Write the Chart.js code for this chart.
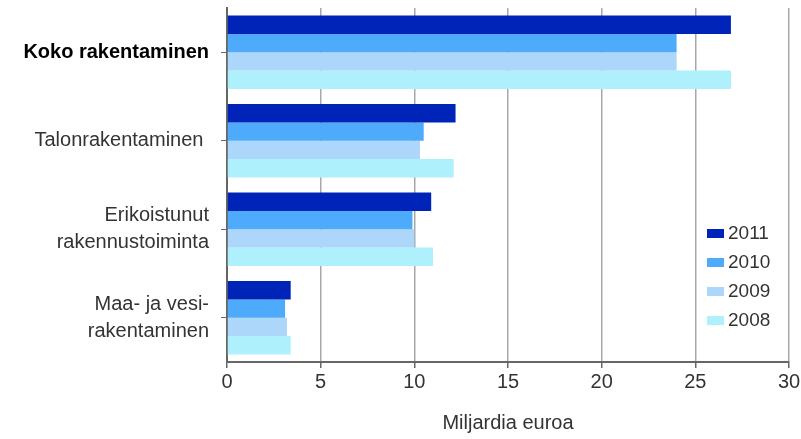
<!DOCTYPE html>
<html lang="fi">
<head>
  <meta charset="UTF-8">
  <script src="https://cdn.jsdelivr.net/npm/chart.js"></script>
  <title>Rakentaminen</title>
  <style>
    html, body { margin: 0; padding: 0; background: #fff; }
  </style>
</head>
<body>
  <canvas id="chart" width="801" height="439"></canvas>

  <script>
    const categories = [
      "Koko rakentaminen",
      "Talonrakentaminen ",
      ["Erikoistunut", "rakennustoiminta"],
      ["Maa- ja vesi-", "rakentaminen"]
    ];
    const years = ["2011", "2010", "2009", "2008"];
    const values2011 = [26.9, 12.2, 10.9, 3.4];
    const values2010 = [24.0, 10.5, 9.9, 3.1];
    const values2009 = [24.0, 10.3, 10.0, 3.2];
    const values2008 = [26.9, 12.1, 11.0, 3.4];
    const colors = ["#0024b8", "#4eaafa", "#acd6fa", "#aef0fc"];
    const xTicks = [0, 5, 10, 15, 20, 25, 30];

    const FONT = "'Liberation Sans', Arial, sans-serif";
    const series = [values2011, values2010, values2009, values2008];

    // legend drawn inside the plot, lower right
    const boxLegend = {
      id: "boxLegend",
      afterDraw(chart) {
        const ctx = chart.ctx;
        const x = 707, y0 = 233, step = 29;
        ctx.save();
        ctx.font = "19px " + FONT;
        ctx.textBaseline = "middle";
        chart.data.datasets.forEach((ds, i) => {
          const y = y0 + i * step;
          ctx.fillStyle = ds.backgroundColor;
          ctx.fillRect(x, y - 4, 17, 9);
          ctx.fillStyle = "#333";
          ctx.fillText(ds.label, x + 21, y + 1);
        });
        ctx.restore();
      }
    };

    new Chart(document.getElementById("chart"), {
      type: "bar",
      data: {
        labels: categories,
        datasets: years.map((y, i) => ({
          label: y,
          data: series[i],
          backgroundColor: colors[i],
          borderWidth: 0,
          categoryPercentage: 0.83,
          barPercentage: 1.0
        }))
      },
      options: {
        indexAxis: "y",
        responsive: false,
        animation: false,
        layout: { padding: { top: 8, right: 12, bottom: 0, left: 0 } },
        plugins: { legend: { display: false }, tooltip: { enabled: false } },
        scales: {
          x: {
            min: 0,
            max: 30,
            afterBuildTicks: s => { s.ticks = xTicks.map(v => ({ value: v })); },
            afterFit: s => { s.height = 77; s.paddingRight = 0; },
            grid: { color: "#a8a8a8", lineWidth: 1.5, tickLength: 6, tickColor: "#666" },
            border: { color: "#666", width: 2 },
            ticks: { color: "#333", font: { family: FONT, size: 20 }, padding: 2, maxRotation: 0 },
            title: { display: true, text: "Miljardia euroa", color: "#333", font: { family: FONT, size: 20 }, padding: { top: 6 } }
          },
          y: {
            afterFit: s => { s.width = 227; s.paddingTop = 0; s.paddingBottom = 0; },
            grid: { drawOnChartArea: false, offset: false, tickLength: 6, tickColor: "#666" },
            border: { color: "#666", width: 2 },
            ticks: {
              padding: 12,
              color: c => c.index === 0 ? "#000" : "#333",
              font: c => ({ family: FONT, size: 20, weight: c.index === 0 ? "bold" : "normal", lineHeight: 1.35 })
            }
          }
        }
      },
      plugins: [boxLegend]
    });
  </script>
</body>
</html>
